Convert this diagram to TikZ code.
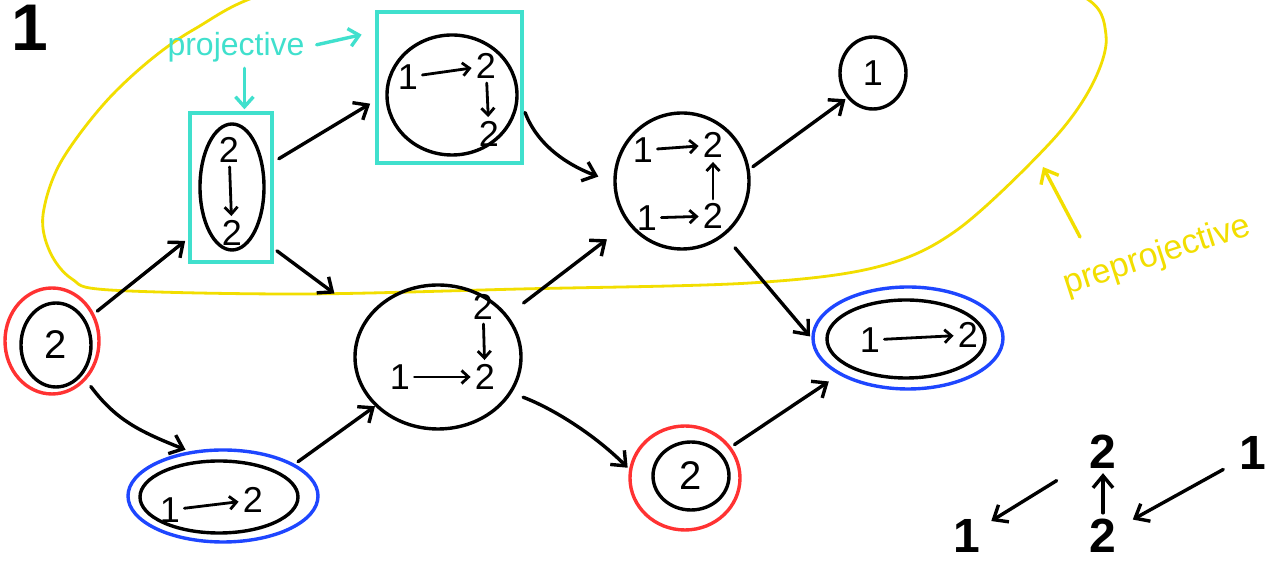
\documentclass[tikz,border=0pt]{standalone}
\usepackage{fontspec}
\setmainfont{Liberation Sans}
\usetikzlibrary{arrows.meta,shapes.geometric}
\definecolor{cyanbox}{RGB}{64,224,205}
\definecolor{ylw}{RGB}{242,222,0}
\definecolor{redr}{RGB}{255,50,50}
\definecolor{bluer}{RGB}{30,70,255}
\begin{document}
\begin{tikzpicture}[x=0.5pt,y=-0.5pt,
 ell/.style={draw=black, line width=1.7pt, ellipse, inner sep=0pt},
 ring/.style={ellipse, inner sep=0pt, line width=1.7pt},
 box/.style={draw=cyanbox, line width=1.7pt, rectangle, inner sep=0pt},
 dig/.style={inner sep=1pt, font=\fontsize{18}{18}\selectfont},
 bigdig/.style={inner sep=1pt, font=\fontsize{24}{24}\selectfont\bfseries},
 arr/.style={draw=black, line width=1.7pt, line cap=round, -{Straight Barb[length=6pt,width=10pt]}},
 inarr/.style={draw=black, line width=1.4pt, line cap=round, -{Straight Barb[length=3.5pt,width=6.5pt]}, shorten <=1pt, shorten >=1pt},
 carr/.style={draw=cyanbox, line width=1.7pt, line cap=round, -{Straight Barb[length=5pt,width=9pt]}},
 yarr/.style={draw=ylw, line width=1.7pt, line cap=round, -{Straight Barb[length=6pt,width=10pt]}},
]
\useasboundingbox (0,0) rectangle (1281,565);
\fill[white] (0,0) rectangle (1281,565);

% yellow region
\begin{scope}
\clip (0,0) rectangle (1281,565);
\draw[ylw, line width=1.4pt] plot[smooth cycle, tension=0.55] coordinates {(110,290) (300,294) (520,289) (750,283) (877,267) (957,230) (1050,143) (1092,85) (1106,35) (1080,-5) (950,-40) (600,-50) (300,-15) (193,30) (117,90) (62,160) (43,215) (50,252) (72,279)};
\end{scope}

% title
\node[inner sep=0pt, font=\fontsize{33}{33}\selectfont\bfseries] (title) at (30,28) {1};

% node A (projective)
\node[box, minimum width=41pt, minimum height=74.5pt] (Abox) at (231,187.5) {};
\node[ell, minimum width=32pt, minimum height=63pt] (A) at (232,187) {};
\node[dig] (A1) at (229,150) {2};
\node[dig] (A2) at (232,233) {2};
\draw[inarr] (A1) -- (A2);

% node B (projective)
\node[box, minimum width=72.5pt, minimum height=75.5pt] (Bbox) at (449.5,87.5) {};
\node[ell, minimum width=65pt, minimum height=60pt] (B) at (452,95) {};
\node[dig] (B1) at (408,77) {1};
\node[dig] (B2) at (486,66) {2};
\node[dig] (B3) at (489,134) {2};
\draw[inarr] (B1) -- (B2);
\draw[inarr] (B2) -- (B3);

% node C
\node[ell, minimum width=67pt, minimum height=68pt] (C) at (682,181) {};
\node[dig] (C1) at (643,150) {1};
\node[dig] (C2) at (713,145) {2};
\node[dig] (C3) at (647,218) {1};
\node[dig] (C4) at (713,216) {2};
\draw[inarr] (C1) -- (C2);
\draw[inarr] (C3) -- (C4);
\draw[inarr] (C4) -- (C2);

% node D
\node[ell, minimum width=33pt, minimum height=36pt, font=\fontsize{18}{18}\selectfont] (D) at (873,73) {1};

% node E
\node[ring, draw=redr, minimum width=47pt, minimum height=53pt] (Ering) at (52,341) {};
\node[ell, minimum width=35pt, minimum height=42pt, font=\fontsize{20}{20}\selectfont] (E) at (56,345) {2};

% node F
\node[ring, draw=bluer, minimum width=95pt, minimum height=46pt] (Fring) at (223,496) {};
\node[ell, minimum width=79pt, minimum height=36pt] (F) at (219,497) {};
\node[dig] (F1) at (170,510) {1};
\node[dig] (F2) at (253,500) {2};
\draw[inarr] (F1) -- (F2);

% node G
\node[ell, minimum width=83pt, minimum height=72pt] (G) at (438,357) {};
\node[dig] (G1) at (483,307) {2};
\node[dig] (G2) at (485,377) {2};
\node[dig] (G3) at (400,377) {1};
\draw[inarr] (G1) -- (G2);
\draw[inarr] (G3) -- (G2);

% node H
\node[ring, draw=redr, minimum width=55pt, minimum height=52pt] (Hring) at (685,478) {};
\node[ell, minimum width=38pt, minimum height=34pt, font=\fontsize{20}{20}\selectfont] (H) at (691,476) {2};

% node I
\node[ring, draw=bluer, minimum width=95pt, minimum height=51pt] (Iring) at (908,338) {};
\node[ell, minimum width=79pt, minimum height=39pt] (I) at (906,339) {};
\node[dig] (I1) at (870,340) {1};
\node[dig] (I2) at (968,335) {2};
\draw[inarr] (I1) -- (I2);

% AR quiver arrows
\draw[arr, shorten <=2pt, shorten >=2pt] (Ering.33) -- (Abox.230);
\draw[arr, shorten <=4pt, shorten >=2pt] (Ering.311) .. controls +(30,40) and +(-50,-20) .. (Fring.127);
\draw[arr, shorten <=3pt, shorten >=3pt] (Abox.31) -- (Bbox.190);
\draw[arr, shorten <=2pt, shorten >=20pt] (Abox.305) -- (G.151);
\draw[arr, shorten <=2pt, shorten >=0pt] (Fring.24) -- (G.218);
\draw[arr, shorten <=2pt, shorten >=8pt] (Bbox.344) .. controls +(15,40) and +(-40,-15) .. (C.181);
\draw[arr, shorten <=10pt, shorten >=13pt] (G.31) -- (C.218);
\draw[arr, shorten <=6pt, shorten >=1pt] (G.334) .. controls +(40,15) and +(-35,-35) .. (Hring.171);
\draw[arr, shorten <=2pt, shorten >=1pt] (C.10) -- (D.224);
\draw[arr, shorten <=8pt, shorten >=1pt] (C.308) -- (Iring.180);
\draw[arr, shorten <=2pt, shorten >=6pt] (Hring.34) -- (Iring.208);

% projective label
\node[inner sep=1pt, text=cyanbox, font=\fontsize{16}{16}\selectfont] (projlbl) at (236,47) {projective};
\draw[carr, shorten <=5pt, shorten >=7pt] (projlbl.east) -- (Bbox.143);
\draw[carr, shorten <=2pt, shorten >=1pt] (Abox.80 |- projlbl.south) -- (Abox.80);

% preprojective label
\node[inner sep=1pt, text=ylw, rotate=18, font=\fontsize{17}{17}\selectfont] (pplbl) at (1157,256) {preprojective};
\coordinate (ppTail) at (1080,237);
\coordinate (ppHead) at (1043,167);
\draw[yarr] (ppTail) -- (ppHead);

% bottom-right quiver
\node[bigdig] (Q1) at (967,536) {1};
\node[bigdig] (Q2t) at (1103,452) {2};
\node[bigdig] (Q2b) at (1103,536) {2};
\node[bigdig] (Q1r) at (1253,453) {1};
\draw[arr, shorten <=2pt, shorten >=1pt] (Q2b) -- (Q2t);
\draw[arr, shorten <=18pt, shorten >=5pt] (Q2t) -- (Q1);
\draw[arr, shorten <=8pt, shorten >=8pt] (Q1r) -- (Q2b);
\end{tikzpicture}
\end{document}
